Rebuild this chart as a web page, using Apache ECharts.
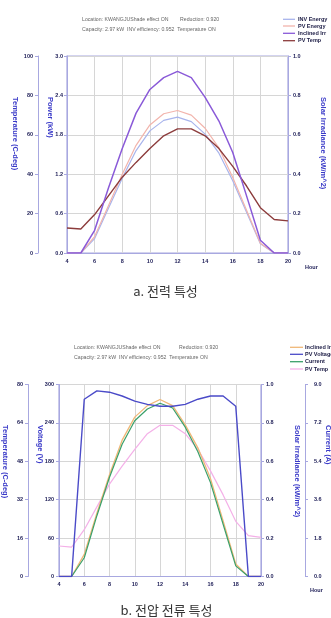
<!DOCTYPE html>
<html><head><meta charset="utf-8">
<script src="https://cdn.jsdelivr.net/npm/echarts@6/dist/echarts.min.js"></script>
<style>html,body{margin:0;padding:0;background:#fff}#c{width:331px;height:618px}</style>
</head><body><div id="c"></div>
<script>
// ---- data ----
const hours      = [4,5,6,7,8,9,10,11,12,13,14,15,16,17,18,19,20];
const inclinedIrr= [0,0,0.115,0.33,0.53,0.71,0.83,0.89,0.922,0.89,0.79,0.67,0.51,0.29,0.065,0,0];
const pvEnergy   = [0,0,0.25,0.72,1.2,1.64,1.95,2.12,2.17,2.1,1.9,1.6,1.15,0.65,0.15,0,0];
const invEnergy  = [0,0,0.22,0.68,1.14,1.56,1.86,2.02,2.07,2.0,1.81,1.52,1.1,0.62,0.14,0,0];
const pvTemp     = [12.7,12.2,19.5,29,38.5,46,53,59.5,63,63,59.5,53,44,34,23,17,16.3];
const pvVoltage  = [0,0,277,290,288,282,274,269,266,266,269,277,282,282,266,0,0];
const current    = [0,0,0.88,2.85,4.65,6.2,7.3,7.85,8.12,7.9,7.0,5.85,4.4,2.45,0.5,0,0];

const powerTicks = [0,0.6,1.2,1.8,2.4,3.0];
const tempTicksA = [0,20,40,60,80,100];
const irrTicks   = [0,0.2,0.4,0.6,0.8,1.0];
const voltTicks  = [0,60,120,180,240,300];
const tempTicksB = [0,16,32,48,64,80];
const currTicks  = [0,1.8,3.6,5.4,7.2,9.0];

const pair = arr => hours.map((h,i)=>[h,arr[i]]);

const AX = '#a8a8e0', GRIDC = '#d6d6d6', LAB = '#22225a', TITLE = '#3a3ac8';
const FF = 'Liberation Sans, Arial, sans-serif';

function yAx(o){
  const ticks = o.ticks;
  const step = ticks[1]-ticks[0];
  return {
    type:'value', gridIndex:o.grid, position:o.pos, offset:o.offset||0,
    min:ticks[0], max:ticks[ticks.length-1], interval:step,
    axisLine:{show:true, lineStyle:{color:AX,width:1}},
    axisTick:{show:true, length:3, lineStyle:{color:AX}},
    axisLabel:{fontSize:5.5, fontWeight:'bold', color:LAB, fontFamily:FF, margin:o.margin||4,
      formatter:v=>o.dec? (+v).toFixed(1) : String(Math.round(v))},
    splitLine:{show:!!o.split, lineStyle:{color:GRIDC,width:1}}
  };
}
function xAx(g){
  return {type:'value', gridIndex:g, min:4, max:20, interval:2,
    axisLine:{show:true,lineStyle:{color:AX}}, axisTick:{show:false},
    axisLabel:{fontSize:5.5,fontWeight:'bold',color:LAB,fontFamily:FF,margin:5},
    splitLine:{show:true,lineStyle:{color:GRIDC,width:1}}};
}
function ln(name,x,y,data,color,w){
  return {name, type:'line', xAxisIndex:x, yAxisIndex:y, data:pair(data), symbol:'none',
    lineStyle:{color, width:w||1.2}, itemStyle:{color}, silent:true, z:3};
}
function txt(t,x,y,s){ return {type:'text', x, y, silent:true, style:Object.assign({text:t, fontFamily:FF, verticalAlign:'middle'},s)}; }
function vtitle(t,x,y){ return {type:'text', x, y, rotation:-Math.PI/2, silent:true,
  style:{text:t, fontFamily:FF, fontSize:7.5, fontWeight:'bold', fill:TITLE, align:'left', verticalAlign:'middle'}}; }
function legend(items,x0,x1,tx,ys){
  const out=[];
  items.forEach((it,i)=>{
    out.push({type:'line', silent:true, shape:{x1:x0,y1:ys[i],x2:x1,y2:ys[i]}, style:{stroke:it[1],lineWidth:1.3}});
    out.push(txt(it[0],tx,ys[i],{fontSize:5.5,fontWeight:'bold',fill:'#22224a'}));
  });
  return out;
}

const hdr = {fontSize:5.2, fill:'#666'};
const graphics = [
  txt('Location: KWANGJUShade effect ON',82,19.3,hdr),
  txt('Reduction: 0.920',180,19.3,hdr),
  txt('Capacity: 2.97 kW  INV efficiency: 0.952  Temperature ON',82,29.3,hdr),
  txt('Location: KWANGJUShade effect ON',74,347.3,hdr),
  txt('Reduction: 0.920',179,347.3,hdr),
  txt('Capacity: 2.97 kW  INV efficiency: 0.952  Temperature ON',74,357.7,hdr),
  ...legend([['INV Energy','#a8b4ec'],['PV Energy','#f2b4ac'],['Inclined Irr','#8a5ad8'],['PV Temp','#8c3c3c']],283,295,298,[19.3,26,33.3,40.7]),
  ...legend([['Inclined Irr','#f0b878'],['PV Voltage','#4a4ac8'],['Current','#3aa06a'],['PV Temp','#f4b0e8']],290,303,305,[347.3,354.3,361.7,369]),
  vtitle('Temperature (C-deg)',15,97),
  vtitle('Power (kW)',50,97),
  vtitle('Solar Irradiance (kW/m^2)',323,97),
  vtitle('Temperature (C-deg)',5,425),
  vtitle('Voltage (V)',40,425),
  vtitle('Solar Irradiance (kW/m^2)',297,425),
  vtitle('Current (A)',328,425),
  txt('Hour',305,267,{fontSize:5.5,fontWeight:'bold',fill:LAB}),
  txt('Hour',310,590,{fontSize:5.5,fontWeight:'bold',fill:LAB}),
  {type:'text', x:165.5, y:291.5, silent:true, style:{text:'a. 전력 특성', fontFamily:'Noto Sans CJK KR', fontSize:13, fill:'#333', align:'center', verticalAlign:'middle'}},
  {type:'text', x:166.5, y:610, silent:true, style:{text:'b. 전압 전류 특성', fontFamily:'Noto Sans CJK KR', fontSize:13, fill:'#333', align:'center', verticalAlign:'middle'}}
];

const chart = echarts.init(document.getElementById('c'), null, {renderer:'canvas'});
chart.setOption({
  animation:false,
  backgroundColor:'#fff',
  grid:[
    {left:67, top:56, width:221, height:197, show:true, borderColor:AX, borderWidth:1.2, backgroundColor:'transparent'},
    {left:59, top:384.5, width:202, height:192, show:true, borderColor:AX, borderWidth:1.2, backgroundColor:'transparent'}
  ],
  xAxis:[xAx(0), xAx(1)],
  yAxis:[
    yAx({grid:0,pos:'left',ticks:powerTicks,dec:true,split:true,margin:4}),
    yAx({grid:0,pos:'left',offset:29,ticks:tempTicksA,margin:5}),
    yAx({grid:0,pos:'right',ticks:irrTicks,dec:true,margin:5}),
    yAx({grid:1,pos:'left',ticks:voltTicks,split:true,margin:5}),
    yAx({grid:1,pos:'left',offset:31,ticks:tempTicksB,margin:5}),
    yAx({grid:1,pos:'right',ticks:irrTicks,dec:true,margin:5}),
    yAx({grid:1,pos:'right',offset:44,ticks:currTicks,dec:true,margin:9})
  ],
  series:[
    ln('INV Energy',0,0,invEnergy,'#a8b4ec',1.2),
    ln('PV Energy',0,0,pvEnergy,'#f2b4ac',1.2),
    ln('PV Temp',0,1,pvTemp,'#8c3c3c',1.4),
    ln('Inclined Irr',0,2,inclinedIrr,'#8a5ad8',1.5),
    ln('PV Temp B',1,4,pvTemp,'#f4b0e8',1.2),
    ln('Inclined Irr B',1,5,inclinedIrr,'#f0b878',1.3),
    ln('Current',1,6,current,'#3aa06a',1.2),
    ln('PV Voltage',1,3,pvVoltage,'#4a4ac8',1.4)
  ],
  graphic:graphics
});
</script></body></html>
